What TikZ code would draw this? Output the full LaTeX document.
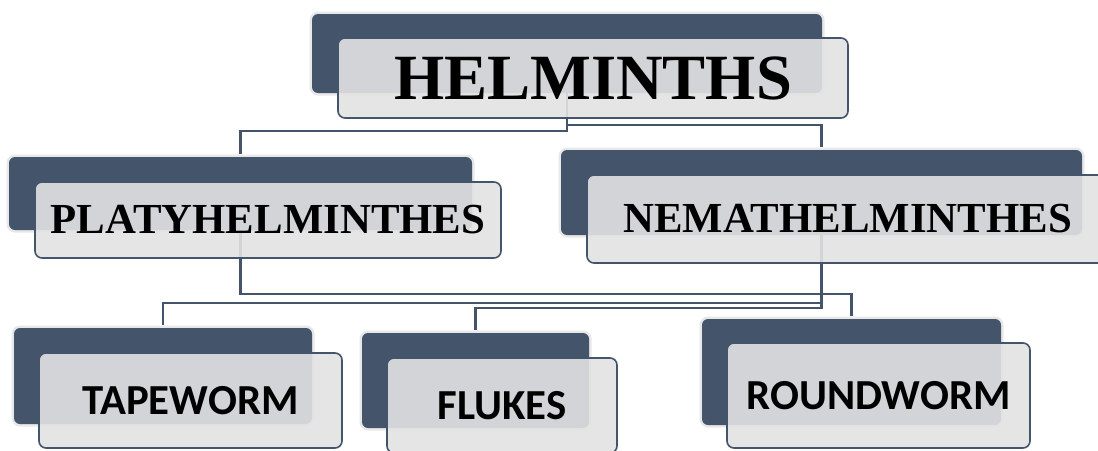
\documentclass[tikz,border=0pt]{standalone}
\usepackage{fontspec}
\setmainfont{Liberation Serif}
\newfontfamily\labelsans{Carlito}
\usetikzlibrary{calc}
\definecolor{slate}{HTML}{44546A}
\definecolor{halo}{HTML}{E8E8E8}
\definecolor{paper}{HTML}{E3E3E3}
\tikzset{
  backbox/.style={rectangle, inner sep=0pt, rounded corners=6pt, fill=slate,
    preaction={draw=halo, line width=5pt}},
  frontbox/.style={rectangle, inner sep=0pt, rounded corners=7pt,
    fill=paper, fill opacity=0.9, text opacity=1, draw=slate, draw opacity=1,
    line width=1.6pt, text=black},
  link/.style={draw=slate, line width=2.3pt, shorten >=3pt},
  bigserif/.style={font=\fontsize{64.5}{70}\selectfont\bfseries},
  midserif/.style={font=\fontsize{42.8}{48}\selectfont\bfseries},
  leafsans/.style={font=\labelsans\fontsize{42.8}{48}\selectfont\bfseries},
}
\begin{document}
\begin{tikzpicture}[x=1pt, y=-1pt]
  \useasboundingbox (0,0) rectangle (1098,450);
  \clip (0,0) rectangle (1098,450);
  \fill[white] (0,0) rectangle (1098,450);

  % rear tiles
  \node[backbox, minimum width=510pt, minimum height=79pt] (hD) at (567,53.5) {};
  \node[backbox, minimum width=463pt, minimum height=73pt] (pD) at (240.5,193.5) {};
  \node[backbox, minimum width=521pt, minimum height=85pt] (nD) at (821.5,192.5) {};
  \node[backbox, minimum width=298pt, minimum height=96pt] (tD) at (163,376) {};
  \node[backbox, minimum width=227pt, minimum height=95pt] (fD) at (475.5,380.5) {};
  \node[backbox, minimum width=299pt, minimum height=106pt] (rD) at (851.5,372) {};

  % hierarchy connectors
  \draw[link] (hD.south) -- ++(0,38) -| (pD.north);
  \draw[link] (hD.south) -- ++(0,32) -| (nD.north);
  \draw[link] (pD.south) -- ++(0,64) -| (rD.north);
  \draw[link] (nD.south) -- ++(0,68) -| (tD.north);
  \draw[link] (nD.south) -- ++(0,73) -| (fD.north);

  % front labels
  \node[frontbox, bigserif, minimum width=510pt, minimum height=80pt] (hF) at (593,78) {HELMINTHS};
  \node[frontbox, midserif, minimum width=466pt, minimum height=76pt] (pF) at (268,220) {PLATYHELMINTHES};
  \node[frontbox, midserif, minimum width=521pt, minimum height=88pt] (nF) at (847.5,219) {NEMATHELMINTHES};
  \node[frontbox, leafsans, minimum width=303pt, minimum height=95pt] (tF) at (190.5,400.5) {TAPEWORM};
  \node[frontbox, leafsans, minimum width=230pt, minimum height=95pt] (fF) at (502,405.5) {FLUKES};
  \node[frontbox, leafsans, minimum width=303pt, minimum height=105pt] (rF) at (878.5,395.5) {ROUNDWORM};
\end{tikzpicture}
\end{document}
